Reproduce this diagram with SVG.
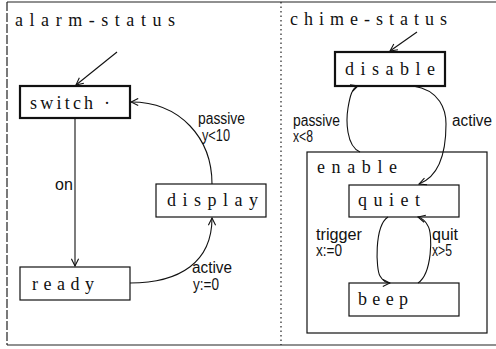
<svg xmlns="http://www.w3.org/2000/svg" width="496" height="349" viewBox="0 0 496 349">
  <style>
    .frame { fill: none; stroke: #222; stroke-width: 1.2; }
    .box { fill: #fff; stroke: #111; stroke-width: 1.2; }
    .box.init { stroke-width: 2.2; }
    .region { fill: none; stroke: #111; stroke-width: 1.2; }
    .name { font-family: "Liberation Serif", "DejaVu Serif", serif; font-size: 18px; fill: #111; }
    .lbl { font-family: "Liberation Sans Narrow", "Liberation Sans", sans-serif; font-size: 16px; fill: #111; }
    .edge { fill: none; stroke: #111; stroke-width: 1.1; }
  </style>
  <defs>
    <marker id="arr" viewBox="0 0 10 10" refX="9" refY="5" markerWidth="9" markerHeight="9" markerUnits="userSpaceOnUse" orient="auto">
      <path d="M1,1 L9,5 L1,9" fill="none" stroke="#111" stroke-width="1.2"/>
    </marker>
  </defs>
  <rect width="496" height="349" fill="#fff"/>

  <!-- outer frame and region divider -->
  <g id="frame">
    <line class="frame" x1="7" y1="2" x2="496" y2="2"/>
    <line class="frame" x1="7" y1="2" x2="7" y2="345" stroke-dasharray="9 2"/>
    <line class="frame" x1="7" y1="345" x2="496" y2="345"/>
    <line class="frame" x1="281" y1="2" x2="281" y2="345" stroke-dasharray="1.5 3"/>
  </g>

  <!-- alarm-status region -->
  <g id="alarm-status">
    <text class="name" x="15" y="26" textLength="160" lengthAdjust="spacing">alarm-status</text>
  </g>
  <g id="switch">
    <rect class="box init" x="20" y="86" width="110" height="32"/>
    <text class="name" x="30" y="109" textLength="80" lengthAdjust="spacing">switch ·</text>
  </g>
  <g id="ready">
    <rect class="box" x="20" y="267" width="110" height="33"/>
    <text class="name" x="32" y="290" textLength="62" lengthAdjust="spacing">ready</text>
  </g>
  <g id="display">
    <rect class="box" x="156" y="184" width="110" height="33"/>
    <text class="name" x="167" y="206" textLength="91" lengthAdjust="spacing">display</text>
  </g>

  <!-- chime-status region -->
  <g id="chime-status">
    <text class="name" x="290" y="25" textLength="157" lengthAdjust="spacing">chime-status</text>
  </g>
  <g id="disable">
    <rect class="box init" x="335" y="52" width="110" height="34"/>
    <text class="name" x="345" y="75" textLength="90" lengthAdjust="spacing">disable</text>
  </g>
  <g id="enable">
    <rect class="region" x="307" y="152" width="180" height="181"/>
    <text class="name" x="317" y="173" textLength="80" lengthAdjust="spacing">enable</text>
  </g>
  <g id="quiet">
    <rect class="box" x="349" y="185" width="110" height="32"/>
    <text class="name" x="358" y="206" textLength="62" lengthAdjust="spacing">quiet</text>
  </g>
  <g id="beep">
    <rect class="box" x="349" y="283" width="110" height="33"/>
    <text class="name" x="358" y="305" textLength="50" lengthAdjust="spacing">beep</text>
  </g>

  <!-- transitions -->
  <g id="connectors">
    <line class="edge" x1="117" y1="52" x2="76" y2="85" marker-end="url(#arr)"/>
    <line class="edge" x1="75" y1="118" x2="75" y2="266" marker-end="url(#arr)"/>
    <path class="edge" d="M212,184 C212,138 180,102 131,102" marker-end="url(#arr)"/>
    <path class="edge" d="M130,283 C180,283 212,262 212,218" marker-end="url(#arr)"/>

    <line class="edge" x1="417" y1="32" x2="390" y2="51" marker-end="url(#arr)"/>
    <path class="edge" d="M360,152 C346,146 346,120 348,108 C350,96 352,88 358,86" marker-end="url(#arr)"/>
    <path class="edge" d="M413,86 C440,90 446,110 446,124 C446,150 440,176 419,184" marker-end="url(#arr)"/>
    <path class="edge" d="M388,217 C374,226 376,270 380,276 C383,281 386,283 390,283" marker-end="url(#arr)"/>
    <path class="edge" d="M418,283 C432,274 433,234 428,226 C425,220 422,218 418,217" marker-end="url(#arr)"/>
  </g>

  <!-- transition labels -->
  <g id="labels">
    <text class="lbl" x="55" y="190">on</text>
    <text class="lbl" x="198" y="124" textLength="47" lengthAdjust="spacingAndGlyphs">passive</text>
    <text class="lbl" x="202" y="141" textLength="28" lengthAdjust="spacingAndGlyphs">y&lt;10</text>
    <text class="lbl" x="192" y="273" textLength="40" lengthAdjust="spacingAndGlyphs">active</text>
    <text class="lbl" x="193" y="290" textLength="26" lengthAdjust="spacingAndGlyphs">y:=0</text>
    <text class="lbl" x="293" y="126" textLength="47" lengthAdjust="spacingAndGlyphs">passive</text>
    <text class="lbl" x="293" y="142" textLength="20" lengthAdjust="spacingAndGlyphs">x&lt;8</text>
    <text class="lbl" x="452" y="126" textLength="40" lengthAdjust="spacingAndGlyphs">active</text>
    <text class="lbl" x="316" y="240" textLength="46" lengthAdjust="spacingAndGlyphs">trigger</text>
    <text class="lbl" x="316" y="256" textLength="26" lengthAdjust="spacingAndGlyphs">x:=0</text>
    <text class="lbl" x="432" y="240" textLength="26" lengthAdjust="spacingAndGlyphs">quit</text>
    <text class="lbl" x="432" y="256" textLength="20" lengthAdjust="spacingAndGlyphs">x&gt;5</text>
  </g>
</svg>
